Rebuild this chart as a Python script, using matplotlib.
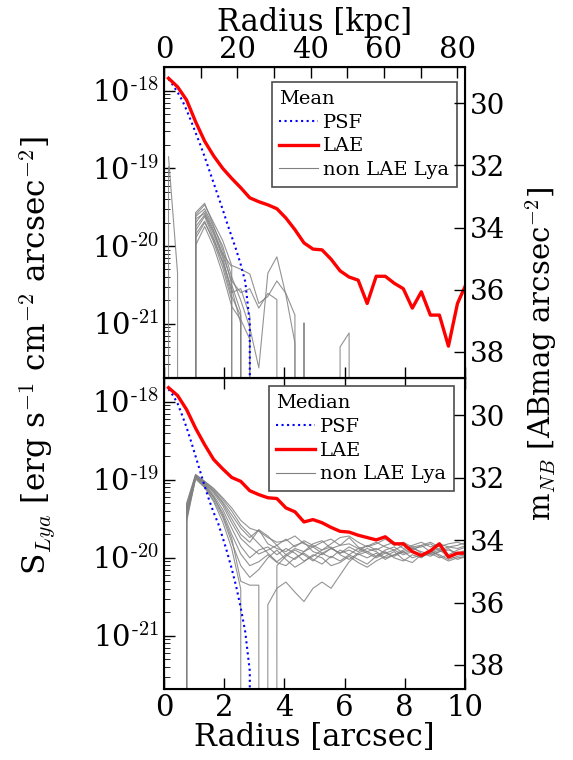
import numpy as np
import matplotlib
matplotlib.use("Agg")
from matplotlib import pyplot as plt
from matplotlib.ticker import NullFormatter, FixedLocator

plt.rcParams['font.family'] = ['DejaVu Serif']
plt.rcParams['mathtext.fontset'] = 'cm'
plt.rcParams['mathtext.rm'] = 'DejaVu Serif'

# radial bins [arcsec]
radius = [0.15, 0.45, 0.75, 1.05, 1.35, 1.65, 1.95, 2.25, 2.55, 2.85,
          3.15, 3.45, 3.75, 4.05, 4.35, 4.65, 4.95, 5.25, 5.55, 5.85,
          6.15, 6.45, 6.75, 7.05, 7.35, 7.65, 7.95, 8.25, 8.55, 8.85,
          9.15, 9.45, 9.75, 10.05]
psf_radius = [0.15, 0.30, 0.45, 0.60, 0.75, 0.90, 1.05, 1.20, 1.35, 1.50,
              1.65, 1.80, 1.95, 2.10, 2.25, 2.40, 2.55, 2.70, 2.85, 3.00]

# log10 surface brightness, None = no positive flux
psf_mean = [-17.85, -17.93, -18.02, -18.12, -18.25, -18.39, -18.54, -18.69, -18.85, -19.02,
            -19.19, -19.36, -19.53, -19.71, -19.88, -20.05, -20.24, -20.46, -21.00, None]
psf_median = [-17.84, -17.92, -18.02, -18.17, -18.33, -18.51, -18.70, -18.89, -19.08, -19.26,
              -19.42, -19.56, -19.74, -19.93, -20.14, -20.37, -20.64, -20.95, -21.45, None]

lae_mean = [-17.84, -17.95, -18.12, -18.40, -18.65, -18.84, -19.00, -19.13, -19.25, -19.38,
            -19.43, -19.47, -19.52, -19.64, -19.79, -19.96, -20.04, -20.05, -20.17, -20.32,
            -20.40, -20.44, -20.74, -20.39, -20.39, -20.48, -20.55, -20.80, -20.59, -20.89,
            -20.89, -21.29, -20.74, -20.48]
lae_median = [-17.82, -17.92, -18.10, -18.34, -18.55, -18.74, -18.86, -18.97, -19.02, -19.14,
              -19.19, -19.23, -19.24, -19.36, -19.41, -19.54, -19.51, -19.55, -19.61, -19.66,
              -19.67, -19.71, -19.74, -19.77, -19.73, -19.82, -19.82, -19.92, -19.97, -19.91,
              -19.82, -19.99, -19.94, -19.94]

N = None
nonlae_mean = [
    [-18.85, -20.35, N, -19.60, -19.47, -19.70, -19.93, -20.25, -20.30, -20.36, -20.74, -20.65, -20.45, -20.61, -20.89] + [N] * 19,
    [-18.98, N, N, -19.62, -19.52, -19.76, -20.00, -20.40, -20.70, -21.05, -21.57, -20.35, -20.14, -20.63, -21.25] + [N] * 19,
    [N, N, N, -19.57, -19.45, -19.74, -20.05, -20.50, -20.85] + [N] * 25,
    [N, N, N, -19.70, -19.55, -19.80, -20.10, -20.27] + [N] * 26,
    [N, N, N, -19.75, -19.60, -19.85, -20.15, -20.60, -20.55, -20.90] + [N] * 24,
    [N, N, N, -19.80, -19.62, -19.90, -20.20, -20.55, -21.00] + [N] * 25,
    [N, N, N, -19.85, -19.68, -19.95, -20.28, -20.70] + [N] * 26,
    [N, N, N, -19.99, -19.75, -20.01, -20.36, -20.78, -20.95, -21.20] + [N] * 24,
    [N, N, N, -19.65, -19.58, -19.82, -20.12, -20.45, -20.60, -20.55, -20.80, -20.61, -20.69, N, N, -20.99] + [N] * 18,
    [N, N, N, -19.90, -19.70, -19.92, -20.22, -20.65, -20.90] + [N] * 10 + [-21.30, -21.12] + [N] * 13,
]
nonlae_median = [
    [N, N, -19.30, -18.93, -19.02, -19.11, -19.23, -19.36, -19.52, -19.62, -19.66, -19.74, -19.80, -19.78, -19.72, -19.82, -19.86,
     -19.80, -19.76, -19.84, -19.82, -19.88, -19.85, -19.80, -19.86, -19.90, -19.84, -19.88, -19.86, -19.82, -19.90, -19.86, -19.84, -19.80],
    [N, N, -19.35, -18.94, -19.03, -19.14, -19.28, -19.45, -19.62, -19.74, -19.64, -19.82, -19.88, -19.92, -19.84, -19.80, -19.92,
     -19.96, -19.88, -19.84, -19.74, -19.86, -19.92, -19.98, -19.90, -19.86, -19.94, -19.90, -19.84, -19.92, -19.88, -19.96, -19.90, -19.86],
    [N, N, -19.40, -18.95, -19.05, -19.17, -19.33, -19.55, -19.75, -19.86, -19.95, -19.90, -19.84, -19.96, -20.02, -19.92, -19.86,
     -19.94, -20.00, -19.90, -19.96, -19.88, -19.94, -20.00, -19.94, -19.90, -19.96, -19.92, -19.98, -19.94, -19.90, -19.98, -19.94, -19.92],
    [N, N, -19.45, -18.96, -19.06, -19.20, -19.38, -19.62, -19.85, -20.00, -19.90, -19.86, -19.96, -19.88, -19.94, -20.04, -19.98,
     -19.90, -19.86, -19.96, -20.02, -19.94, -19.88, -19.92, -20.00, -19.96, -19.90, -19.86, -19.94, -19.98, -19.92, -19.88, -19.96, -19.94],
    [N, N, -19.50, -18.97, -19.08, -19.23, -19.42, -19.70, -19.95, -20.10, -20.05, -19.96, -20.06, -20.10, -20.00, -19.94, -20.02,
     -20.08, -19.98, -20.04, -19.96, -20.02, -20.08, -19.98, -19.92, -20.00, -20.04, -19.96, -20.00, -19.92, -19.96, -20.02, -19.98, -19.96],
    [N, N, -19.54, -18.98, -19.09, -19.26, -19.48, -19.80, -20.10, -20.25, -20.15, -20.00, -19.90, -20.02, -20.12, -20.05, -19.96,
     -20.00, -20.10, -20.06, -19.98, -20.06, -20.12, -20.04, -19.98, -19.92, -20.02, -20.06, -19.96, -19.90, -19.98, -20.04, -20.00, -19.98],
    [N, N, -19.38, -18.95, -19.04, -19.15, -19.30, -19.50, -19.70, -19.80, -19.64, -19.72, -19.84, -19.76, -19.86, -19.78, -19.84,
     -19.90, -19.82, -19.74, -19.72, -19.80, -19.86, -19.82, -19.76, -19.84, -19.80, -19.86, -19.84, -19.80, -19.86, -19.82, -19.80, -19.84],
    [N, N, -19.48, -18.99, -19.10, -19.28, -19.54, -19.88, -20.40, N, N, -20.60, -20.39, -20.31, -20.44, -20.56, -20.39,
     -20.31, -20.39, -20.22, -20.05, -19.95, -20.00, -19.94, -20.02, -19.96, -19.92, -20.00, -19.96, -19.94, -20.00, -19.96, -20.02, -19.98],
    [N, N, -19.42, -18.96, -19.07, -19.22, -19.45, -19.75, -20.30, -20.35, -20.35, N, -20.10, -19.98, -19.90, -19.96, -20.04,
     -19.94, -19.88, -19.94, -19.90, -19.96, -19.92, -19.88, -19.94, -19.98, -19.92, -19.88, -19.92, -19.96, -19.92, -19.90, -19.94, -19.90],
    [N, N, -19.32, -18.94, -19.02, -19.12, -19.25, -19.40, -19.58, -19.70, -19.82, -19.94, -20.05, -19.96, -19.88, -19.92, -19.82,
     -19.78, -19.88, -19.94, -19.86, -19.92, -19.84, -19.90, -19.84, -19.80, -19.88, -19.84, -19.80, -19.86, -19.82, -19.86, -19.88, -19.84],
]

kpc_per_arcsec = 8.21


def flux(vals):
    return np.array([10.0 ** v if v is not None else 0.0 for v in vals])


def panel(ax, psf, lae, others, title, ylog, mag0):
    ax.set_yscale('log', nonpositive='clip')
    for row in others:
        ax.plot(radius, flux(row), color='gray', lw=0.8, alpha=0.85)
    ax.plot(psf_radius, flux(psf), ':', color='blue', lw=1.5, label='PSF')
    ax.plot(radius, flux(lae), '-', color='red', lw=2.4, label='LAE')
    ax.plot([], [], color='gray', lw=0.8, label='non LAE Lya')

    ax.set_xlim(0, 10)
    ax.set_ylim(10 ** ylog[0], 10 ** ylog[1])
    ax.set_xticks([0, 2, 4, 6, 8, 10])
    ax.yaxis.set_major_locator(FixedLocator([1e-18, 1e-19, 1e-20, 1e-21]))
    ax.set_yticklabels(['10$^{\\text{-18}}$', '10$^{\\text{-19}}$',
                        '10$^{\\text{-20}}$', '10$^{\\text{-21}}$'])
    ax.yaxis.set_minor_formatter(NullFormatter())
    ax.tick_params(axis='both', which='major', direction='in', length=8, width=1,
                   labelsize=21, right=False)
    ax.tick_params(axis='both', which='minor', direction='in', length=4, right=False)
    for s in ax.spines.values():
        s.set_linewidth(1.5)

    # AB magnitude on the right
    axr = ax.twinx()
    axr.set_ylim(-2.5 * ylog[0] + mag0, -2.5 * ylog[1] + mag0)
    axr.set_yticks([30, 32, 34, 36, 38])
    axr.tick_params(axis='y', direction='in', length=8, width=1, labelsize=20)
    axr.minorticks_off()

    leg = ax.legend(title=title, loc='upper right', fontsize=14, title_fontsize=14,
                    handlelength=2.0, handletextpad=0.25, labelspacing=0.3,
                    borderpad=0.4, borderaxespad=0, fancybox=False, framealpha=1,
                    alignment='left')
    leg.get_frame().set_edgecolor('0.3')
    leg.get_frame().set_linewidth(1.2)
    return leg


fig = plt.figure(figsize=(5.73, 7.6), dpi=100)
W, H = 573.0, 760.0
ax1 = fig.add_axes([164 / W, 1 - 378 / H, 301 / W, 311 / H])
ax2 = fig.add_axes([164 / W, 1 - 689 / H, 301 / W, 311 / H])

leg1 = panel(ax1, psf_mean, lae_mean, nonlae_mean, 'Mean', (-21.70, -17.695), -15.405)
leg1.set_bbox_to_anchor((0.973, 0.952), transform=ax1.transAxes)
leg2 = panel(ax2, psf_median, lae_median, nonlae_median, 'Median', (-21.68, -17.696), -15.43)
leg2.set_bbox_to_anchor((0.963, 0.974), transform=ax2.transAxes)

ax1.tick_params(axis='x', labelbottom=False)
ax2.tick_params(axis='x', top=True, labeltop=False)
ax2.set_xlabel('Radius [arcsec]', fontsize=22, labelpad=0)

top = ax1.secondary_xaxis('top', functions=(lambda r: r * kpc_per_arcsec,
                                            lambda k: k / kpc_per_arcsec))
top.set_xticks(range(0, 90, 10), ['0', '', '20', '', '40', '', '60', '', '80'])
top.tick_params(direction='in', length=8, width=1, labelsize=21, pad=2)
top.set_xlabel('Radius [kpc]', fontsize=22, labelpad=4)

fig.text(0.066, 0.532, 'S$_{Lya}$ [erg s$^{-1}$ cm$^{-2}$ arcsec$^{-2}$]',
         rotation=90, ha='center', va='center', fontsize=22.5)
fig.text(0.945, 0.535, 'm$_{NB}$ [ABmag arcsec$^{-2}$]',
         rotation=90, ha='center', va='center', fontsize=21)

fig.savefig('out.png', dpi=100)
